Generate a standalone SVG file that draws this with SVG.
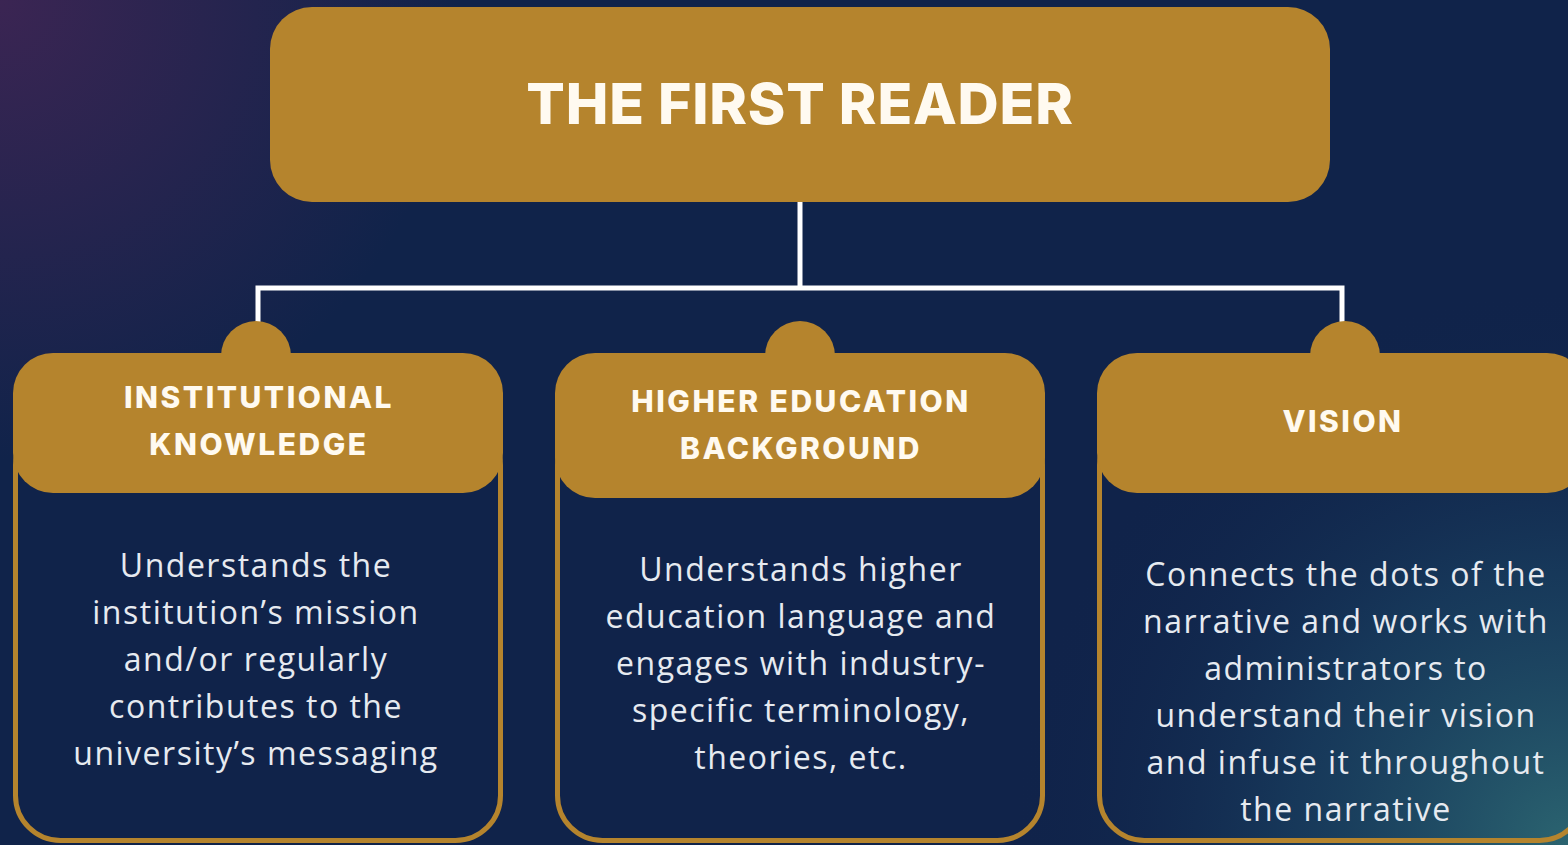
<svg xmlns="http://www.w3.org/2000/svg" width="1568" height="845" viewBox="0 0 1568 845">
  <defs>
    <radialGradient id="glowPurple" cx="0" cy="0" r="460" gradientUnits="userSpaceOnUse">
      <stop offset="0" stop-color="#3b2553" stop-opacity="1"/>
      <stop offset="1" stop-color="#3b2553" stop-opacity="0"/>
    </radialGradient>
    <radialGradient id="glowTeal" cx="1568" cy="845" r="560" gradientUnits="userSpaceOnUse">
      <stop offset="0" stop-color="#2b6470" stop-opacity="1"/>
      <stop offset="0.5" stop-color="#1c4866" stop-opacity="0.55"/>
      <stop offset="1" stop-color="#10234a" stop-opacity="0"/>
    </radialGradient>
    <style>
      .gold { fill: #b5842d; }
      .frame { fill: none; stroke: #b5842d; stroke-width: 5; }
      .link { fill: none; stroke: #ffffff; stroke-width: 5; }
      .title { font-family: "Inter", "Lato", "DejaVu Sans", sans-serif; font-weight: 800; fill: #fffaf0; text-anchor: middle; }
      .head { font-family: "Inter", "Lato", "DejaVu Sans", sans-serif; font-weight: 800; font-size: 30px; letter-spacing: 2.5px; fill: #fffaf0; text-anchor: middle; }
      .body { font-family: "Open Sans", "Noto Sans", "DejaVu Sans", sans-serif; font-size: 32px; letter-spacing: 1.5px; fill: #e6eaf0; text-anchor: middle; }
    </style>
  </defs>

  <!-- background -->
  <rect x="0" y="0" width="1568" height="845" fill="#10234a"/>
  <rect x="0" y="0" width="1568" height="845" fill="url(#glowPurple)"/>
  <rect x="0" y="0" width="1568" height="845" fill="url(#glowTeal)"/>

  <!-- connectors -->
  <g id="connectors">
    <path class="link" d="M800,200 V288"/>
    <path class="link" d="M258,324 V288 H1342 V324"/>
  </g>

  <!-- root node -->
  <g id="node-root">
    <rect class="gold" x="270" y="7" width="1060" height="195" rx="42"/>
    <text class="title" x="800" y="124" font-size="57" letter-spacing="0.8">THE FIRST READER</text>
  </g>

  <!-- card: institutional knowledge -->
  <g id="node-institutional">
    <rect class="frame" x="15.5" y="420" width="485" height="420.5" rx="45"/>
    <circle class="gold" cx="256" cy="356" r="35"/>
    <rect class="gold" x="13" y="353" width="490" height="140" rx="40"/>
    <text class="head" x="259" y="408">INSTITUTIONAL</text>
    <text class="head" x="259" y="455">KNOWLEDGE</text>
    <text class="body" x="256" y="577">Understands the</text>
    <text class="body" x="256" y="624">institution’s mission</text>
    <text class="body" x="256" y="671">and/or regularly</text>
    <text class="body" x="256" y="718">contributes to the</text>
    <text class="body" x="256" y="765">university’s messaging</text>
  </g>

  <!-- card: higher education background -->
  <g id="node-higher-ed">
    <rect class="frame" x="557.5" y="420" width="485" height="420.5" rx="45"/>
    <circle class="gold" cx="800" cy="356" r="35"/>
    <rect class="gold" x="555" y="353" width="490" height="145" rx="40"/>
    <text class="head" x="801" y="412">HIGHER EDUCATION</text>
    <text class="head" x="801" y="459">BACKGROUND</text>
    <text class="body" x="801" y="581">Understands higher</text>
    <text class="body" x="801" y="628">education language and</text>
    <text class="body" x="801" y="675">engages with industry-</text>
    <text class="body" x="801" y="722">specific terminology,</text>
    <text class="body" x="801" y="769">theories, etc.</text>
  </g>

  <!-- card: vision -->
  <g id="node-vision">
    <rect class="frame" x="1099.5" y="420" width="485" height="420.5" rx="45"/>
    <circle class="gold" cx="1345" cy="356" r="35"/>
    <rect class="gold" x="1097" y="353" width="490" height="140" rx="40"/>
    <text class="head" x="1343" y="432">VISION</text>
    <text class="body" x="1346" y="586">Connects the dots of the</text>
    <text class="body" x="1346" y="633">narrative and works with</text>
    <text class="body" x="1346" y="680">administrators to</text>
    <text class="body" x="1346" y="727">understand their vision</text>
    <text class="body" x="1346" y="774">and infuse it throughout</text>
    <text class="body" x="1346" y="821">the narrative</text>
  </g>
</svg>
